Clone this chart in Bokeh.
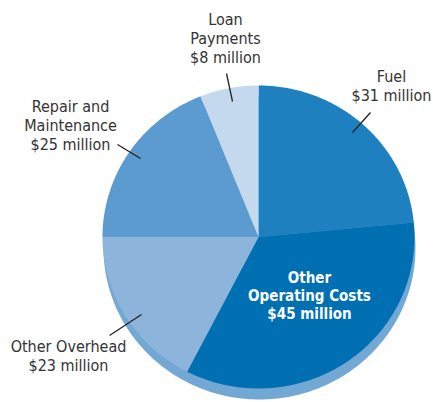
import numpy as np
from bokeh.plotting import figure
from bokeh.models import Range1d, ColumnDataSource
from bokeh.core.properties import value
from bokeh.embed import file_html
from bokeh.resources import INLINE

# ---- data (clockwise from 12 o'clock) ----
categories = ["Fuel", "Other Operating Costs", "Other Overhead", "Repair and Maintenance", "Loan Payments"]
amounts = [31, 45, 23, 25, 8]          # $ million
colors = ["#1f80bf", "#0070b2", "#8db4da", "#5b9bcf", "#c4d8ee"]
label_lines = [
    ["Fuel"],
    ["Other", "Operating Costs"],
    ["Other Overhead"],
    ["Repair and", "Maintenance"],
    ["Loan", "Payments"],
]

# ---- layout (page pixel coordinates, y downward) ----
W, H = 433, 402
CX, CY, RX, RY = 258, 236.5, 156, 151.5
SHADOW_DX, SHADOW_DY = 1, 11
LINE_H = 19
TEXT_SHIFT = -6
label_anchor = {   # x-centre, baseline of first line
    "Fuel": (391, 82),
    "Other Operating Costs": (309, 283),
    "Other Overhead": (68, 352),
    "Repair and Maintenance": (70, 112),
    "Loan Payments": (225, 25),
}
leaders = {
    "Fuel": ((370, 112), (352, 132)),
    "Other Overhead": ((109, 335), (141, 314)),
    "Repair and Maintenance": ((117, 144), (140, 158)),
    "Loan Payments": ((226, 73), (232, 101)),
}

p = figure(width=W, height=H, output_backend="svg", toolbar_location=None,
           x_range=Range1d(0, W), y_range=Range1d(H, 0),
           min_border=0, outline_line_color=None, background_fill_color="white",
           border_fill_color="white")
p.axis.visible = False
p.grid.visible = False

def sector(a0, a1, cx, cy, n=120):
    t = np.linspace(a0, a1, n)
    xs = np.concatenate([[cx], cx + RX * np.sin(t), [cx]])
    ys = np.concatenate([[cy], cy - RY * np.cos(t), [cy]])
    return list(xs), list(ys)

# shadow (3-D rim)
sx, sy = sector(0, 2 * np.pi, CX + SHADOW_DX, CY + SHADOW_DY, 360)
p.patch(sx, sy, fill_color="#74a8d4", line_color=None)

total = sum(amounts)
ends = np.cumsum(amounts) / total * 2 * np.pi
starts = np.concatenate([[0], ends[:-1]])
xs_all, ys_all = [], []
for a0, a1 in zip(starts, ends):
    xs, ys = sector(a0, a1, CX, CY)
    xs_all.append(xs)
    ys_all.append(ys)
p.patches(xs="xs", ys="ys", fill_color="colors", line_color=None,
          source=ColumnDataSource(dict(xs=xs_all, ys=ys_all, colors=colors)))

# leader lines
for cat, ((x0, y0), (x1, y1)) in leaders.items():
    p.segment(x0=[x0], y0=[y0], x1=[x1], y1=[y1], line_color="#222222", line_width=1.3)

# labels
font = value("DejaVu Sans Condensed")
for cat, amt, lines in zip(categories, amounts, label_lines):
    x0, y0 = label_anchor[cat]
    y0 += TEXT_SHIFT
    txt = lines + [f"${amt} million"]
    inside = cat == "Other Operating Costs"
    p.text(x=[x0] * len(txt), y=[y0 + i * (18 if inside else LINE_H) for i in range(len(txt))],
           text=txt, text_align="center", text_baseline="alphabetic",
           text_font=font, text_font_size="15px" if inside else "16px",
           text_font_style="bold" if inside else "normal",
           text_color="white" if inside else "#333333")

open("out.html", "w").write(file_html(p, INLINE))
